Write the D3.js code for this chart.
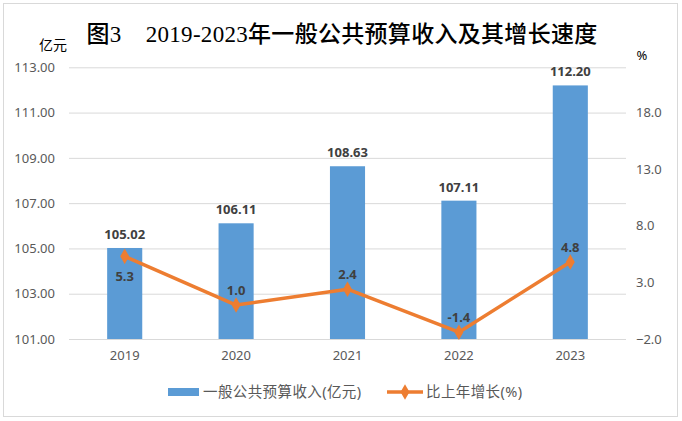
<!DOCTYPE html>
<html>
<head>
<meta charset="utf-8">
<script src="https://cdn.jsdelivr.net/npm/d3@7"></script>
<style>
  body { margin: 0; background: #fff; }
  text { font-family: "Noto Sans", "Noto Sans CJK SC", sans-serif; }
</style>
</head>
<body>
<div id="chart"></div>
<script>
// data
const years = ['2019', '2020', '2021', '2022', '2023'];
const income = [105.02, 106.11, 108.63, 107.11, 112.20];
const growth = [5.3, 1.0, 2.4, -1.4, 4.8];
const leftTicks = [101, 103, 105, 107, 109, 111, 113];
const rightTicks = [-2, 3, 8, 13, 18];

const W = 682, H = 421;
const plot = {left: 69, right: 626, top: 67.3, bottom: 339};

const svg = d3.select('#chart').append('svg')
  .attr('width', W)
  .attr('height', H);

svg.append('rect')
  .attr('x', 3.5).attr('y', 3.5)
  .attr('width', 674).attr('height', 413)
  .attr('fill', '#fff')
  .attr('stroke', '#d9d9d9');

const x = d3.scaleBand().domain(years).range([plot.left, plot.right]);
const yL = d3.scaleLinear().domain([101, 113]).range([plot.bottom, plot.top]);
const yR = d3.scaleLinear().domain([-2, 22]).range([plot.bottom, plot.top]);
const barW = x.bandwidth() * 0.315;
const cx = d => x(d) + x.bandwidth() / 2;

// gridlines + left axis
const gl = svg.append('g')
  .attr('transform', `translate(${plot.left},0)`)
  .call(d3.axisLeft(yL).tickValues(leftTicks).tickSize(-(plot.right - plot.left)).tickPadding(14).tickFormat(d3.format('.2f')));
gl.select('.domain').remove();
gl.selectAll('.tick line').attr('stroke', '#d9d9d9');
gl.selectAll('.tick text').attr('fill', '#595959').style('font-size', '13px');

// right axis
const gr = svg.append('g')
  .attr('transform', `translate(${plot.right},0)`)
  .call(d3.axisRight(yR).tickValues(rightTicks).tickSize(0).tickPadding(10).tickFormat(d3.format('.1f')));
gr.select('.domain').remove();
gr.selectAll('.tick text').attr('fill', '#595959').style('font-size', '13px');

// x axis labels
const gx = svg.append('g')
  .attr('transform', `translate(0,${plot.bottom})`)
  .call(d3.axisBottom(x).tickSize(0).tickPadding(12));
gx.select('.domain').remove();
gx.selectAll('.tick text').attr('fill', '#595959').style('font-size', '13px');

// bars
svg.append('g').selectAll('rect')
  .data(years)
  .join('rect')
    .attr('x', d => cx(d) - barW / 2)
    .attr('width', barW)
    .attr('y', (d, i) => yL(income[i]))
    .attr('height', (d, i) => yL(101) - yL(income[i]))
    .attr('fill', '#5b9bd5');

svg.append('g').selectAll('text')
  .data(years)
  .join('text')
    .attr('x', d => cx(d))
    .attr('y', (d, i) => yL(income[i]) - 9)
    .attr('text-anchor', 'middle')
    .attr('fill', '#404040')
    .style('font-size', '13px')
    .style('font-weight', 'bold')
    .text((d, i) => income[i].toFixed(2));

// line
const line = d3.line()
  .x(d => cx(d))
  .y((d, i) => yR(growth[i]));

svg.append('path')
  .datum(years)
  .attr('d', line)
  .attr('fill', 'none')
  .attr('stroke', '#ed7d31')
  .attr('stroke-width', 3.5)
  .attr('stroke-linejoin', 'round');

const diamond = d3.symbol().type(d3.symbolDiamond).size(70);
svg.append('g').selectAll('path')
  .data(years)
  .join('path')
    .attr('d', diamond)
    .attr('transform', (d, i) => `translate(${cx(d)},${yR(growth[i])})`)
    .attr('fill', '#ed7d31');

svg.append('g').selectAll('text')
  .data(years)
  .join('text')
    .attr('x', d => cx(d))
    .attr('y', (d, i) => i === 0 ? yR(growth[i]) + 25 : yR(growth[i]) - 10)
    .attr('text-anchor', 'middle')
    .attr('fill', '#404040')
    .style('font-size', '13px')
    .style('font-weight', 'bold')
    .text((d, i) => growth[i].toFixed(1));

// title and unit labels
svg.append('text')
  .attr('x', 342).attr('y', 42)
  .attr('text-anchor', 'middle')
  .attr('fill', '#000')
  .style('font-family', '"Liberation Serif", "Noto Sans CJK SC", serif')
  .style('font-size', '23px')
  .style('font-weight', '500')
  .style('letter-spacing', '0.3px')
  .attr('xml:space', 'preserve')
  .text('图3    2019-2023年一般公共预算收入及其增长速度');

svg.append('text')
  .attr('x', 39).attr('y', 50)
  .attr('fill', '#000')
  .style('font-size', '14px')
  .text('亿元');

svg.append('text')
  .attr('x', 642).attr('y', 60)
  .attr('text-anchor', 'middle')
  .attr('fill', '#000')
  .style('font-size', '13px')
  .text('%');

// legend
const lg = svg.append('g').attr('transform', 'translate(0,392)');
lg.append('rect')
  .attr('x', 168).attr('y', -4)
  .attr('width', 31).attr('height', 8)
  .attr('fill', '#5b9bd5');
lg.append('text')
  .attr('x', 203).attr('y', 5)
  .attr('fill', '#595959')
  .style('font-size', '14.5px')
  .style('letter-spacing', '0.4px')
  .text('一般公共预算收入(亿元)');
lg.append('line')
  .attr('x1', 387).attr('x2', 423)
  .attr('stroke', '#ed7d31')
  .attr('stroke-width', 3.5);
lg.append('path')
  .attr('d', diamond)
  .attr('transform', 'translate(405,0)')
  .attr('fill', '#ed7d31');
lg.append('text')
  .attr('x', 426).attr('y', 5)
  .attr('fill', '#595959')
  .style('font-size', '14.5px')
  .style('letter-spacing', '0.4px')
  .text('比上年增长(%)');
</script>
</body>
</html>
